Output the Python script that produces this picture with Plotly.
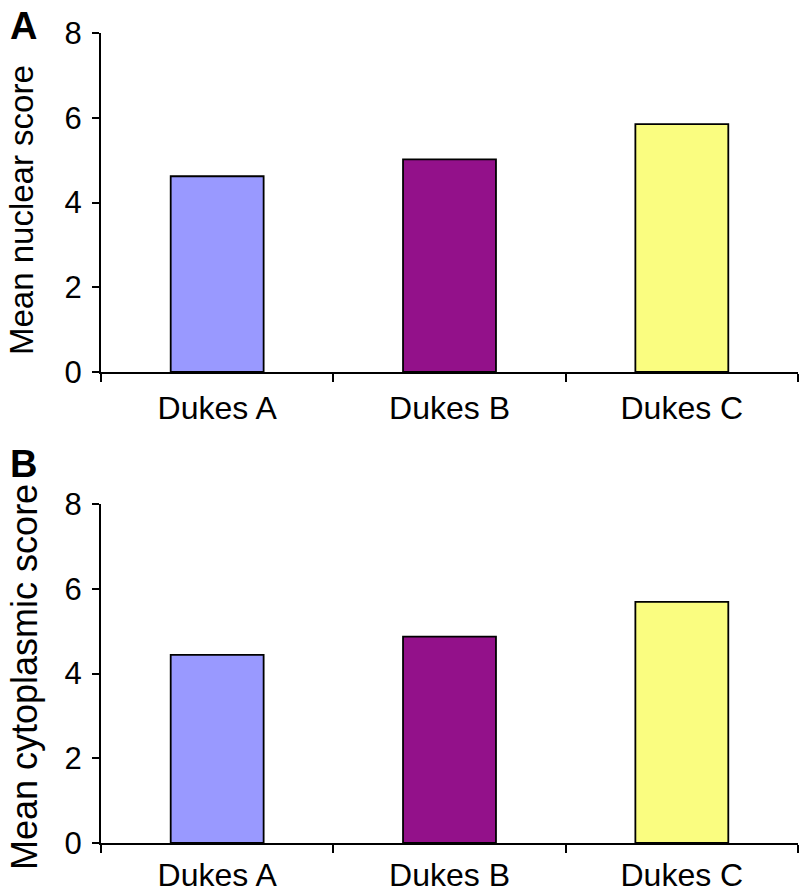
import plotly.graph_objects as go

categories = ["Dukes A", "Dukes B", "Dukes C"]
nuclear = [4.62, 5.02, 5.85]
cytoplasmic = [4.44, 4.87, 5.69]
bar_colors = ["#9999FF", "#93118A", "#FAFD80"]
yticks = [0, 2, 4, 6, 8]

FONT = "Arial, Liberation Sans, Helvetica, sans-serif"
W, H = 807, 893
ML, MR, MT, MB = 101, 9, 33, 50

fig = go.Figure()
fig.add_trace(go.Bar(x=categories, y=nuclear, width=0.4,
                     marker=dict(color=bar_colors, line=dict(color="black", width=1.8)),
                     xaxis="x", yaxis="y", showlegend=False))
fig.add_trace(go.Bar(x=categories, y=cytoplasmic, width=0.4,
                     marker=dict(color=bar_colors, line=dict(color="black", width=1.8)),
                     xaxis="x2", yaxis="y2", showlegend=False))

def xaxis_style(standoff):
    return dict(type="category", showline=True, linecolor="black", linewidth=2,
                ticks="outside", ticklen=8, tickwidth=2, tickcolor="black",
                tickson="boundaries", showgrid=False, zeroline=False, automargin=False,
                ticklabelstandoff=standoff,
                tickfont=dict(size=32, color="black", family=FONT), range=[-0.5, 2.5])

ycommon = dict(range=[0, 8], tickvals=yticks, showline=True, linecolor="black", linewidth=2,
               ticks="outside", ticklen=7, tickwidth=2, tickcolor="black",
               showgrid=False, zeroline=False, ticklabelstandoff=4, automargin=False,
               tickfont=dict(size=31, color="black", family=FONT))

plot_w = W - ML - MR
plot_h = H - MT - MB

def py_to_paper(py):
    return (H - MB - py) / plot_h

def px_to_paper(px):
    return (px - ML) / plot_w

fig.update_layout(
    width=W, height=H,
    margin=dict(l=ML, r=MR, t=MT, b=MB),
    plot_bgcolor="white", paper_bgcolor="white",
    font=dict(family=FONT, color="black"),
    xaxis=dict(domain=[0, 1], anchor="y", **xaxis_style(7)),
    yaxis=dict(domain=[py_to_paper(372), 1], anchor="x", **ycommon),
    xaxis2=dict(domain=[0, 1], anchor="y2", **xaxis_style(3)),
    yaxis2=dict(domain=[0, py_to_paper(504)], anchor="x2", **ycommon),
    annotations=[
        dict(text="<b>A</b>", x=px_to_paper(23), y=py_to_paper(26), xref="paper", yref="paper",
             showarrow=False, xanchor="center", yanchor="middle",
             font=dict(size=38, family=FONT, color="black")),
        dict(text="<b>B</b>", x=px_to_paper(23), y=py_to_paper(464), xref="paper", yref="paper",
             showarrow=False, xanchor="center", yanchor="middle",
             font=dict(size=38, family=FONT, color="black")),
        dict(text="Mean nuclear score", x=px_to_paper(21), y=py_to_paper(210),
             xref="paper", yref="paper", showarrow=False, textangle=-90,
             xanchor="center", yanchor="middle",
             font=dict(size=33, family=FONT, color="black")),
        dict(text="Mean cytoplasmic score", x=px_to_paper(24), y=py_to_paper(677),
             xref="paper", yref="paper", showarrow=False, textangle=-90,
             xanchor="center", yanchor="middle",
             font=dict(size=36, family=FONT, color="black")),
    ],
)

fig.write_html("out.html", config={"displayModeBar": False},
               post_script="document.body.style.margin='0';document.body.style.overflow='hidden';")
